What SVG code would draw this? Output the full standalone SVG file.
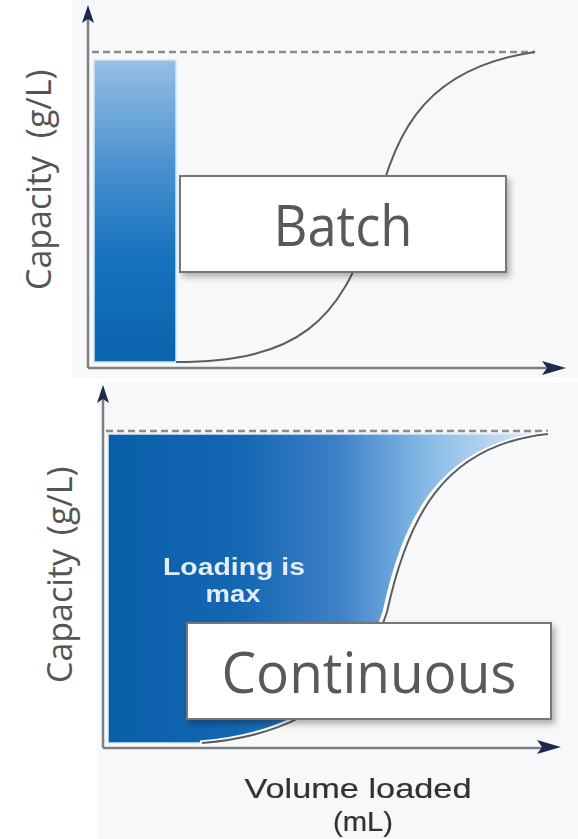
<svg xmlns="http://www.w3.org/2000/svg" width="578" height="839" viewBox="0 0 578 839">
  <defs>
    <style>
      .panel { fill: #f7f8f9; }
      .axis { stroke: #7d7f83; stroke-width: 2.5; fill: none; }
      .head { fill: #1c2a4e; }
      .limit { stroke: #8a8c90; stroke-width: 2.5; stroke-dasharray: 7 4; fill: none; }
      .curve { stroke: #5b5d62; stroke-width: 2; fill: none; }
      .ylabel { font-family: "Open Sans", "Liberation Sans", sans-serif; font-size: 34px; fill: #555555; }
      .tag-box { fill: #ffffff; stroke: #767676; stroke-width: 2; }
      .tag-text { font-family: "Open Sans", "Liberation Sans", sans-serif; font-size: 57px; fill: #595959; text-anchor: middle; }
      .note { font-family: "Liberation Sans", Arial, sans-serif; font-weight: bold; font-size: 24px; fill: #e4eef9; text-anchor: middle; }
      .xlabel { font-family: "Liberation Sans", Arial, sans-serif; font-size: 28px; fill: #333333; stroke: #333333; stroke-width: 0.2; text-anchor: middle; }
    </style>
    <linearGradient id="barFill" x1="0" y1="60" x2="0" y2="362" gradientUnits="userSpaceOnUse">
      <stop offset="0" stop-color="#95bfe6"/>
      <stop offset="0.35" stop-color="#4a91d0"/>
      <stop offset="0.65" stop-color="#1673bd"/>
      <stop offset="1" stop-color="#0a64ad"/>
    </linearGradient>
    <linearGradient id="areaFill" x1="108" y1="0" x2="548" y2="0" gradientUnits="userSpaceOnUse">
      <stop offset="0" stop-color="#0a5fa9"/>
      <stop offset="0.3" stop-color="#1467b3"/>
      <stop offset="0.52" stop-color="#3d80c7"/>
      <stop offset="0.72" stop-color="#85b9e6"/>
      <stop offset="1" stop-color="#e2eef8"/>
    </linearGradient>
    <filter id="shadow" x="-10%" y="-20%" width="125%" height="150%">
      <feDropShadow dx="3" dy="4" stdDeviation="3" flood-color="#000000" flood-opacity="0.3"/>
    </filter>
    <filter id="soft" x="-5%" y="-20%" width="110%" height="140%">
      <feGaussianBlur stdDeviation="0.6"/>
    </filter>
  </defs>

  <rect width="578" height="839" fill="#ffffff"/>

  <!-- upper chart: batch loading -->
  <g id="batch-chart">
    <rect class="panel" x="72" y="0" width="506" height="378"/>
    <line class="limit" x1="92" y1="52" x2="535" y2="52"/>
    <rect x="94" y="60" width="82" height="302" fill="url(#barFill)" stroke="#d3e6f6" stroke-width="1.5"/>
    <path class="curve" d="M176,362 C300,362 340,320 372,225 C392,150 410,70 535,52"/>
    <text class="ylabel" transform="translate(51,290) rotate(-90)">Capacity <tspan dx="9">(g/L)</tspan></text>
  </g>

  <!-- lower chart: continuous loading -->
  <g id="continuous-chart">
    <rect class="panel" x="97" y="383" width="481" height="456"/>
    <line class="limit" x1="106" y1="431" x2="548" y2="431"/>
    <path d="M108,743 H200 C300,735 360,690 385,612 C405,520 440,445 548,434 L108,434 Z" fill="url(#areaFill)" stroke="#dbeaf7" stroke-width="1.5"/>
    <path d="M200,743 C300,735 360,690 385,612 C405,520 440,445 548,434" fill="none" stroke="#ffffff" stroke-width="5"/>
    <path class="curve" transform="translate(2,0)" d="M200,743 C300,735 360,690 385,612 C405,520 440,445 546,434"/>
    <text class="ylabel" transform="translate(72,683) rotate(-90)">Capacity <tspan dx="5">(g/L)</tspan></text>
    <g filter="url(#soft)">
      <text class="note" x="234" y="575" textLength="142" lengthAdjust="spacingAndGlyphs">Loading is</text>
      <text class="note" x="233" y="602" textLength="55" lengthAdjust="spacingAndGlyphs">max</text>
    </g>
    <g filter="url(#soft)">
      <text class="xlabel" x="358" y="798" textLength="227" lengthAdjust="spacingAndGlyphs">Volume loaded</text>
      <text class="xlabel" x="363" y="831" textLength="60" lengthAdjust="spacingAndGlyphs">(mL)</text>
    </g>
  </g>

  <!-- axes -->
  <g id="axes">
    <line class="axis" x1="88" y1="18" x2="88" y2="368"/>
    <line class="axis" x1="88" y1="368" x2="548" y2="368"/>
    <path class="head" d="M88,5 L94,23 L88,19 L82,23 Z"/>
    <path class="head" d="M566,368 L542,361 L547,368 L542,375 Z"/>
    <line class="axis" x1="103" y1="398" x2="103" y2="748"/>
    <line class="axis" x1="103" y1="748" x2="543" y2="748"/>
    <path class="head" d="M103,385 L109,403 L103,399 L97,403 Z"/>
    <path class="head" d="M561,747 L537,740 L542,747 L537,754 Z"/>
  </g>

  <!-- category tags -->
  <g id="batch-label">
    <rect class="tag-box" x="180" y="176" width="326" height="96" filter="url(#shadow)"/>
    <text class="tag-text" x="343" y="246" textLength="139" lengthAdjust="spacingAndGlyphs">Batch</text>
  </g>
  <g id="continuous-label">
    <rect class="tag-box" x="187" y="623" width="364" height="96" filter="url(#shadow)"/>
    <text class="tag-text" x="369" y="693" textLength="295" lengthAdjust="spacingAndGlyphs">Continuous</text>
  </g>
</svg>
